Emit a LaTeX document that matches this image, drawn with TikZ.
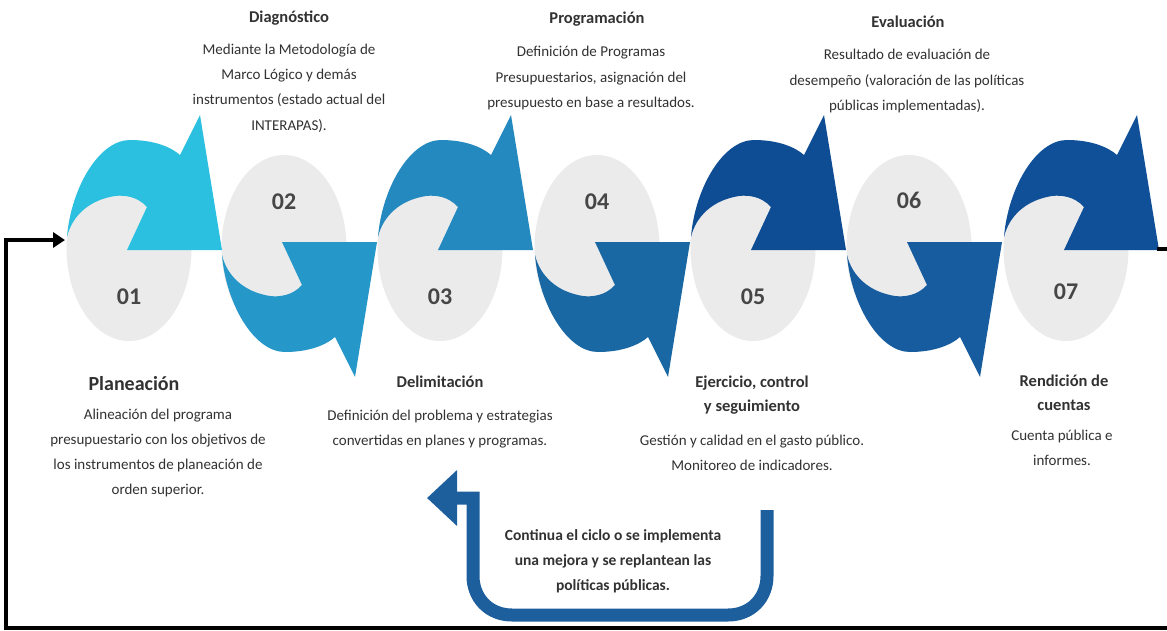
\documentclass[tikz,border=0pt]{standalone}
\usepackage{fontspec}
\setmainfont{Carlito}
\usetikzlibrary{arrows.meta,shapes.geometric}

\definecolor{stepA}{RGB}{43,192,224}
\definecolor{stepB}{RGB}{37,151,200}
\definecolor{stepC}{RGB}{36,137,190}
\definecolor{stepD}{RGB}{25,104,164}
\definecolor{stepE}{RGB}{14,77,148}
\definecolor{stepF}{RGB}{22,92,158}
\definecolor{stepG}{RGB}{16,80,152}
\definecolor{loopblue}{RGB}{29,94,156}
\definecolor{ovalgray}{RGB}{235,235,235}
\definecolor{txtgray}{RGB}{50,50,50}

\tikzset{
  curl/.pic={
    \fill[pic actions] (-62,-11) .. controls (-58,-60) and (-30,-108) .. (1,-108)
      .. controls (25,-108) and (42,-101) .. (51,-93) -- (71,-133) -- (93,2) -- (-2,2)
      -- (18,-41) .. controls (8,-52) and (-5,-53) .. (-14,-52)
      .. controls (-40,-48) and (-57,-32) .. (-62,-11) -- cycle;
  }
}

\begin{document}
\begin{tikzpicture}[x=1pt,y=-1pt,
    oval/.style={ellipse,fill=ovalgray,minimum width=125pt,minimum height=186pt,inner sep=0},
    num/.style={font=\fontsize{24}{28}\selectfont\bfseries,text=txtgray!90!white},
    ttl/.style={align=center,font=\fontsize{16.5}{24}\selectfont\bfseries,text=txtgray},
    desc/.style={align=center,font=\fontsize{15}{25.3}\selectfont,text=txtgray,inner sep=0}]
  \useasboundingbox[fill=white] (0,0) rectangle (1167,630);

  \foreach \n/\cx in {01/129,02/284,03/440,04/597,05/753,06/909,07/1066}
    \node[oval] (o\n) at (\cx,248) {};

  \foreach \n/\cx/\clr/\flip/\cy in {01/129/stepA/1/248,02/284/stepB/-1/244,03/440/stepC/1/248,
      04/597/stepD/-1/244,05/753/stepE/1/248,06/909/stepF/-1/244,07/1066/stepG/1/248}
    \pic[fill=\clr,yscale=\flip] at (\cx,\cy) {curl};

  \foreach \n/\cx/\ny in {01/129/297,02/284/202,03/440/297,04/597/202,05/753/297,06/909/200,07/1066/292}
    \node[num] (n\n) at (\cx,\ny) {\n};

  \node[ttl] (diag) at (289,18) {Diagnóstico};
  \node[desc] (diagtxt) at (289,88) {Mediante la Metodología de\\Marco Lógico y demás\\instrumentos (estado actual del\\INTERAPAS).};
  \node[ttl] (prog) at (597,19) {Programación};
  \node[desc] (progtxt) at (591,78) {Definición de Programas\\Presupuestarios, asignación del\\presupuesto en base a resultados.};
  \node[ttl] (eval) at (908,22) {Evaluación};
  \node[desc] (evaltxt) at (907,81) {Resultado de evaluación de\\desempeño (valoración de las políticas\\públicas implementadas).};

  \node[ttl,font=\fontsize{20}{24}\selectfont\bfseries] (plan) at (134,384) {Planeación};
  \node[desc] (plantxt) at (158,453) {Alineación del programa\\presupuestario con los objetivos de\\los instrumentos de planeación de\\orden superior.};
  \node[ttl] (delim) at (440,382) {Delimitación};
  \node[desc] (delimtxt) at (440,429) {Definición del problema y estrategias\\convertidas en planes y programas.};
  \node[ttl] (ejer) at (752,395) {Ejercicio, control\\y seguimiento};
  \node[desc] (ejertxt) at (752,453) {Gestión y calidad en el gasto público.\\Monitoreo de indicadores.};
  \node[ttl] (rend) at (1064,393) {Rendición de\\cuentas};
  \node[desc] (rendtxt) at (1062,448) {Cuenta pública e\\informes.};

  \node[desc,font=\fontsize{15.5}{25}\selectfont\bfseries] (ciclo) at (613,561) {Continua el ciclo o se implementa\\una mejora y se replantean las\\políticas públicas.};

  \coordinate (loopin) at (65,240);
  \coordinate (loopout) at (1157,249);
  \coordinate (backtop) at (767,510);
  \coordinate (backtip) at (427,498);

  \draw[line width=4pt,-{Triangle[length=12pt,width=15pt]}] (loopout) -- (1172,249) |- (6,628) |- (loopin);
  \draw[line width=13pt,loopblue,-{Triangle[length=30pt,width=54pt]}]
    (backtop) -- (767,576) .. controls (767,597.5) and (751.5,615) .. (728,615) -- (512,615)
    .. controls (488.5,615) and (473,597.5) .. (473,576) -- (473,498) -- (backtip);
\end{tikzpicture}
\end{document}
